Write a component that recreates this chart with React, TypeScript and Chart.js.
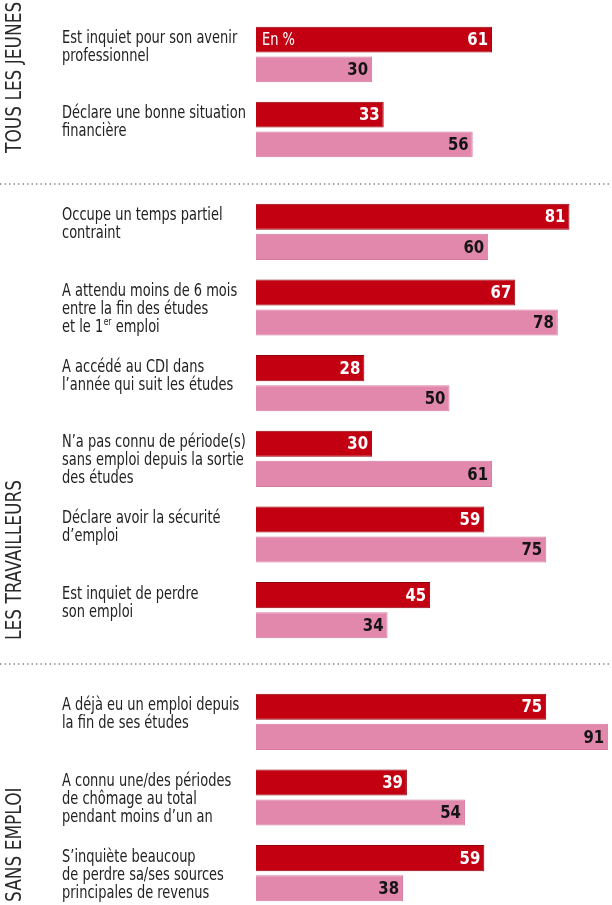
import React, { useEffect, useRef } from "react";
import { Chart, registerables } from "chart.js";

Chart.register(...registerables);

// ---------- DATA ----------
const sectionTitles = ["TOUS LES JEUNES", "LES TRAVAILLEURS", "SANS EMPLOI"];

const sec1Labels = [
  ["Est inquiet pour son avenir", "professionnel"],
  ["Déclare une bonne situation", "financière"],
];
const sec1Red = [61, 33];
const sec1Pink = [30, 56];

const sec2Labels = [
  ["Occupe un temps partiel", "contraint"],
  ["A attendu moins de 6 mois", "entre la fin des études", "et le 1^er emploi"],
  ["A accédé au CDI dans", "l’année qui suit les études"],
  ["N’a pas connu de période(s)", "sans emploi depuis la sortie", "des études"],
  ["Déclare avoir la sécurité", "d’emploi"],
  ["Est inquiet de perdre", "son emploi"],
];
const sec2Red = [81, 67, 28, 30, 59, 45];
const sec2Pink = [60, 78, 50, 61, 75, 34];

const sec3Labels = [
  ["A déjà eu un emploi depuis", "la fin de ses études"],
  ["A connu une/des périodes", "de chômage au total", "pendant moins d’un an"],
  ["S’inquiète beaucoup", "de perdre sa/ses sources", "principales de revenus"],
];
const sec3Red = [75, 39, 59];
const sec3Pink = [91, 54, 38];

const unitNote = "En %";

// ---------- STYLE ----------
const FONT = "'Liberation Sans Narrow', 'DejaVu Sans Condensed', 'Arial Narrow', sans-serif";
const RED = "#c30012";
const RED_BORDER = "#8e000a";
const PINK = "#e388ad";
const PINK_BORDER = "#d47a9e";

type SectionProps = {
  top: number;
  height: number;
  padTop: number;
  padBottom: number;
  title: string;
  titleBottom: number;
  labels: string[][];
  red: number[];
  pink: number[];
  separator: boolean;
  showUnit: boolean;
};

function drawLabelLine(ctx: CanvasRenderingContext2D, text: string, x: number, y: number, sx: number) {
  ctx.save();
  ctx.translate(x, y);
  ctx.scale(sx, 1);
  const idx = text.indexOf("^");
  if (idx < 0) {
    ctx.fillText(text, 0, 0);
    ctx.restore();
    return;
  }
  const before = text.slice(0, idx);
  const rest = text.slice(idx + 1);
  const sp = rest.indexOf(" ");
  const sup = sp < 0 ? rest : rest.slice(0, sp);
  const after = sp < 0 ? "" : rest.slice(sp);
  ctx.fillText(before, 0, 0);
  let cx = ctx.measureText(before).width;
  const saved = ctx.font;
  ctx.font = `10px ${FONT}`;
  ctx.fillText(sup, cx + 0.5, -5);
  cx += ctx.measureText(sup).width + 0.5;
  ctx.font = saved;
  ctx.fillText(after, cx, 0);
  ctx.restore();
}

function SectionChart(p: SectionProps) {
  const ref = useRef<HTMLCanvasElement | null>(null);
  useEffect(() => {
    if (!ref.current) return;
    const overlay = {
      id: "overlay",
      afterDatasetsDraw(chart: any) {
        const ctx: CanvasRenderingContext2D = chart.ctx;
        const m0 = chart.getDatasetMeta(0);
        const m1 = chart.getDatasetMeta(1);
        ctx.save();
        // separator
        if (p.separator) {
          ctx.strokeStyle = "#8a8a8a";
          ctx.lineWidth = 1.5;
          ctx.setLineDash([1.5, 3]);
          ctx.beginPath();
          ctx.moveTo(0, 1);
          ctx.lineTo(chart.width, 1);
          ctx.stroke();
          ctx.setLineDash([]);
        }
        // value labels
        ctx.textBaseline = "middle";
        ctx.textAlign = "right";
        ctx.font = `bold 18px ${FONT}`;
        const drawVal = (txt: string, x: number, y: number, color: string) => {
          ctx.save();
          ctx.translate(x, y);
          ctx.scale(0.92, 1);
          ctx.fillStyle = color;
          ctx.fillText(txt, 0, 0);
          ctx.restore();
        };
        m0.data.forEach((bar: any, i: number) => drawVal(String(p.red[i]), bar.x - 4, bar.y + 1, "#ffffff"));
        m1.data.forEach((bar: any, i: number) => drawVal(String(p.pink[i]), bar.x - 4, bar.y + 1, "#141414"));
        if (p.showUnit) {
          const b = m0.data[0];
          ctx.textAlign = "left";
          ctx.font = `17px ${FONT}`;
          ctx.fillStyle = "#ffffff";
          drawLabelLine(ctx, unitNote, chart.chartArea.left + 6, b.y + 1, 0.85);
        }
        // category labels
        ctx.textAlign = "left";
        ctx.font = `17px ${FONT}`;
        ctx.fillStyle = "#222222";
        p.labels.forEach((lines, i) => {
          const b = m0.data[i];
          const y0 = b.y - 1;
          lines.forEach((ln, k) => drawLabelLine(ctx, ln, 62, y0 + k * 18, 0.85));
        });
        // section title
        ctx.save();
        ctx.translate(16, p.titleBottom);
        ctx.rotate(-Math.PI / 2);
        ctx.scale(0.9, 1);
        ctx.font = `21px ${FONT}`;
        ctx.fillStyle = "#2a2a2a";
        ctx.textAlign = "left";
        ctx.textBaseline = "middle";
        ctx.fillText(p.title, 0, 0);
        ctx.restore();
        ctx.restore();
      },
    };
    const chart = new Chart(ref.current, {
      type: "bar",
      data: {
        labels: p.labels.map((l) => l.join(" ")),
        datasets: [
          {
            data: p.red,
            backgroundColor: RED,
            borderColor: RED_BORDER,
            borderWidth: 1,
            categoryPercentage: 0.795,
            barPercentage: 0.867,
          },
          {
            data: p.pink,
            backgroundColor: PINK,
            borderColor: PINK_BORDER,
            borderWidth: 1,
            categoryPercentage: 0.795,
            barPercentage: 0.867,
          },
        ],
      },
      options: {
        indexAxis: "y",
        animation: false,
        responsive: false,
        maintainAspectRatio: false,
        devicePixelRatio: 1,
        layout: { padding: { left: 256, right: 0, top: p.padTop, bottom: p.padBottom } },
        scales: {
          x: { display: false, min: 0, max: 92 },
          y: { display: false },
        },
        plugins: { legend: { display: false }, tooltip: { enabled: false } },
      },
      plugins: [overlay],
    } as any);
    return () => chart.destroy();
  }, []);
  return (
    <canvas
      ref={ref}
      width={612}
      height={p.height}
      style={{ position: "absolute", left: 0, top: p.top, width: 612, height: p.height }}
    />
  );
}

export default function App() {
  return (
    <div
      style={{
        position: "fixed",
        left: 0,
        top: 0,
        width: 612,
        height: 905,
        overflow: "hidden",
        background: "#ffffff",
      }}
    >
      <SectionChart
        top={0}
        height={183}
        padTop={17}
        padBottom={16}
        title={sectionTitles[0]}
        titleBottom={153}
        labels={sec1Labels}
        red={sec1Red}
        pink={sec1Pink}
        separator={false}
        showUnit={true}
      />
      <SectionChart
        top={183}
        height={480}
        padTop={11}
        padBottom={15}
        title={sectionTitles[1]}
        titleBottom={457}
        labels={sec2Labels}
        red={sec2Red}
        pink={sec2Pink}
        separator={true}
        showUnit={false}
      />
      <SectionChart
        top={663}
        height={250}
        padTop={21}
        padBottom={2}
        title={sectionTitles[2]}
        titleBottom={239}
        labels={sec3Labels}
        red={sec3Red}
        pink={sec3Pink}
        separator={true}
        showUnit={false}
      />
    </div>
  );
}
